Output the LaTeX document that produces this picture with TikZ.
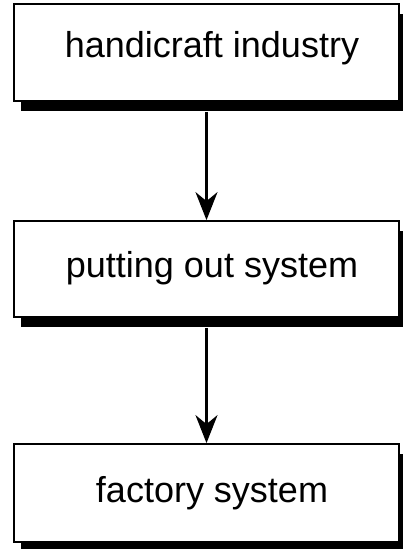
\documentclass[tikz,border=0pt]{standalone}
\usepackage{fontspec}
\setmainfont{Liberation Sans}
\usetikzlibrary{arrows.meta,shadows}
\begin{document}
\begin{tikzpicture}[x=1pt,y=-1pt,
  stagebox/.style={draw=black, line width=1.8pt, fill=white, rectangle, minimum width=385pt, inner sep=0pt,
    drop shadow={shadow xshift=7pt, shadow yshift=-10pt, fill=black, opacity=1}},
  stagetext/.style={font=\fontsize{36}{40}\selectfont, anchor=base, inner sep=0pt},
  flow/.style={line width=2.3pt, -{Stealth[length=28pt, width=22pt, inset=9pt]}}]
\useasboundingbox (0,0) rectangle (403,549);
\node[stagebox, minimum height=97pt] (b1) at (206.5,52.5) {};
\node[stagebox, minimum height=96pt] (b2) at (206.5,269) {};
\node[stagebox, minimum height=98pt] (b3) at (206.5,493) {};
\node[stagetext] (t1) at (212,57) {handicraft industry};
\node[stagetext] (t2) at (212,277) {putting out system};
\node[stagetext] (t3) at (212,502) {factory system};
\draw[flow] ([yshift=-10pt]b1.south) -- (b2.north);
\draw[flow] ([yshift=-10pt]b2.south) -- (b3.north);
\end{tikzpicture}
\end{document}
